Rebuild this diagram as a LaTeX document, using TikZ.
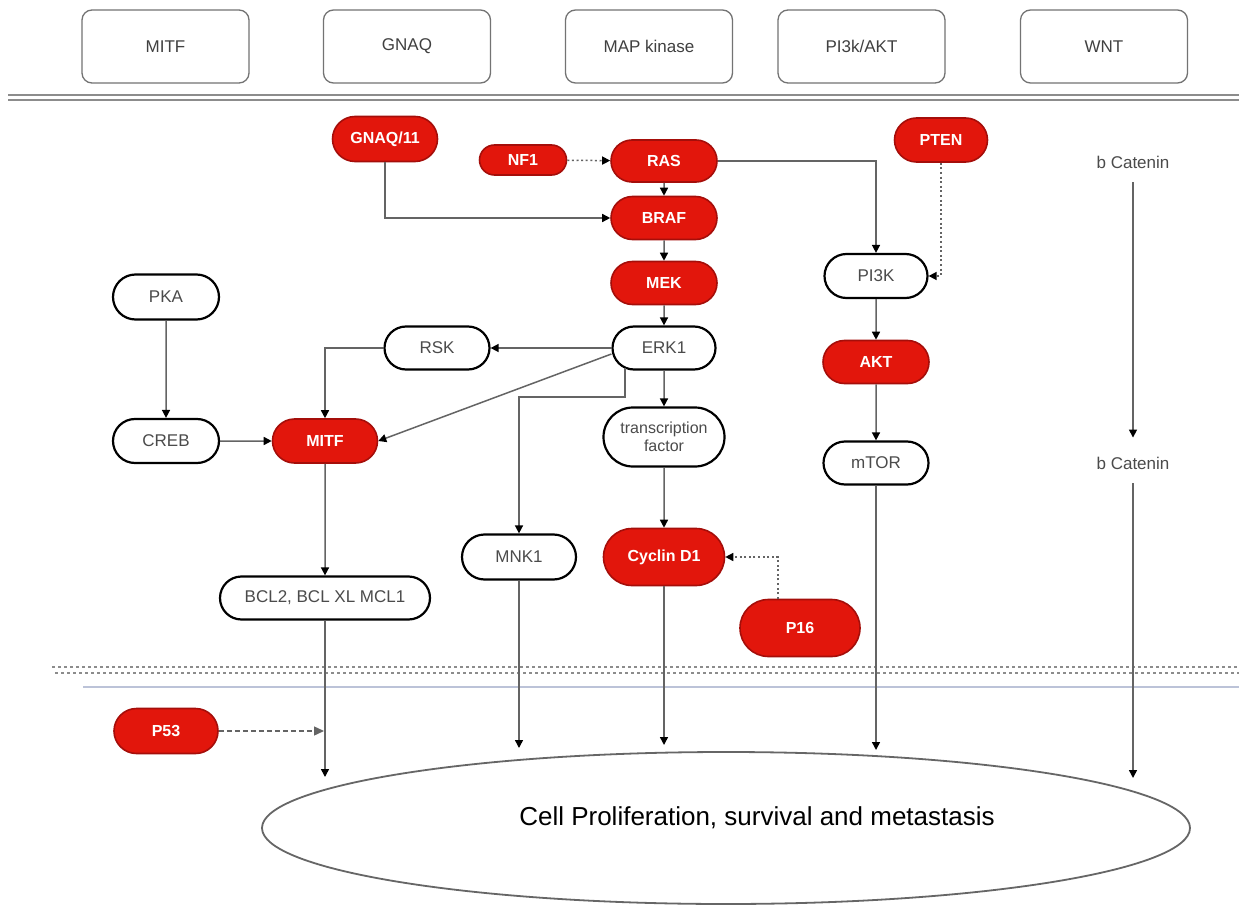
\documentclass[tikz,border=0pt]{standalone}
\usepackage{fontspec}
\setmainfont{Liberation Sans}
\usetikzlibrary{shapes.misc,shapes.geometric,arrows.meta}
\definecolor{nodered}{RGB}{226,22,12}
\definecolor{reddark}{RGB}{165,14,10}
\definecolor{linegray}{RGB}{100,100,100}
\definecolor{dotgray}{RGB}{140,140,140}
\definecolor{thinblue}{RGB}{188,195,216}
\definecolor{txtgray}{RGB}{75,75,75}
\begin{document}
\begin{tikzpicture}[x=1pt,y=-1pt,
  every node/.style={font=\fontsize{17}{20}\selectfont},
  topbox/.style={draw=black!55, line width=1.3pt, rounded corners=10pt, minimum width=167pt, minimum height=73pt, text=black!75},
  wnode/.style={rounded rectangle, draw=black, line width=2.2pt, fill=white, text=txtgray, inner sep=1pt, minimum width=107pt, minimum height=43pt},
  rnode/.style={rounded rectangle, draw=reddark, line width=1.6pt, fill=nodered, text=white, font=\bfseries\fontsize{16}{19}\selectfont, inner sep=1pt, minimum width=108pt, minimum height=43pt},
  plain/.style={text=txtgray, inner sep=0pt},
  arr/.style={draw=linegray, line width=1.5pt, -{Triangle[length=8pt,width=8pt,color=black]}},
  dotarr/.style={arr, dash pattern=on 2pt off 2.6pt},
  dasharr/.style={draw=linegray, line width=1.4pt, dash pattern=on 5pt off 3pt, -{Triangle[length=10pt,width=9pt,color=linegray]}}
]
\useasboundingbox (0,0) rectangle (1239,909);
\fill[white] (0,0) rectangle (1239,909);

% top category boxes
\node[topbox] (tmitf) at (165.5,46.5) {MITF};
\node[topbox] (tgnaq) at (407,46.5) {GNAQ};
\node[topbox] (tmap) at (649,46.5) {MAP kinase};
\node[topbox] (tpi3k) at (861.5,46.5) {PI3k/AKT};
\node[topbox] (twnt) at (1104,46.5) {WNT};

% membrane double line
\draw[draw=black!45, line width=2.2pt] (8,95) -- (1239,95);
\draw[draw=black!45, line width=2.2pt] (8,99.8) -- (1239,99.8);

% nuclear membrane dotted band
\draw[draw=dotgray, line width=2.7pt, dash pattern=on 2.7pt off 3.3pt] (52,667) -- (1239,667);
\draw[draw=dotgray, line width=2.7pt, dash pattern=on 2.7pt off 3.3pt, dash phase=3pt] (52,673) -- (1239,673);
\draw[draw=thinblue, line width=1.3pt] (83,687) -- (1239,687);

% nodes
\node[rnode, minimum width=107pt, minimum height=45pt] (gnaq) at (385,139) {GNAQ/11};
\node[rnode, minimum width=89pt, minimum height=30pt] (nf1) at (523,160) {NF1};
\node[rnode, minimum height=42pt] (ras) at (664,161) {RAS};
\node[rnode] (braf) at (664,218) {BRAF};
\node[rnode] (mek) at (664,283) {MEK};
\node[wnode, minimum width=105pt] (erk) at (664,348) {ERK1};
\node[wnode, minimum width=123pt, minimum height=59pt, align=center, font=\fontsize{16}{18}\selectfont] (tf) at (664,437) {transcription\\factor};
\node[rnode, minimum width=123pt, minimum height=57pt] (cyc) at (664,557) {Cyclin D1};
\node[rnode, minimum width=122pt, minimum height=57pt] (p16) at (800,628) {P16};
\node[rnode, minimum width=95pt, minimum height=44pt] (pten) at (941,140) {PTEN};
\node[wnode, minimum width=105pt, minimum height=44pt] (pi3k) at (876,276) {PI3K};
\node[rnode] (akt) at (876,362) {AKT};
\node[wnode] (mtor) at (876,463) {mTOR};
\node[wnode, minimum width=108pt, minimum height=45pt] (pka) at (166,297) {PKA};
\node[wnode, minimum width=108pt, minimum height=44pt] (creb) at (166,441) {CREB};
\node[wnode] (rsk) at (437,348) {RSK};
\node[rnode, minimum width=107pt, minimum height=44pt] (mitf) at (325,441) {MITF};
\node[wnode, minimum width=116pt, minimum height=45pt] (mnk) at (519,557) {MNK1};
\node[wnode, minimum width=212pt, minimum height=43pt] (bcl) at (325,598) {BCL2, BCL XL MCL1};
\node[rnode, minimum width=106pt, minimum height=45pt] (p53) at (166,731) {P53};
\node[plain] (bc1) at (1133,162) {b Catenin};
\node[plain] (bc2) at (1133,463) {b Catenin};

\node[ellipse, draw=black!60, line width=1.8pt, minimum width=928pt, minimum height=152pt, inner sep=0pt] (cell) at (726,828) {};
\node[font=\fontsize{26}{30}\selectfont, text=black] (celltxt) at (757,818) {Cell Proliferation, survival and metastasis};

% helper coordinates
\coordinate (erkm) at (625,368);
\coordinate (erkbend) at (625,397);
\coordinate (p53t) at (324,731);
\coordinate (e1) at (325,777);
\coordinate (e2) at (519,748);
\coordinate (e3) at (664,745);
\coordinate (e4) at (876,750);
\coordinate (e5) at (1133,778);

% connectors
\draw[dotarr] (nf1) -- (ras);
\draw[arr] (ras) -- (braf);
\draw[arr] (braf) -- (mek);
\draw[arr] (mek) -- (erk);
\draw[arr] (gnaq.south) |- (braf.west);
\draw[arr] (ras.east) -| (pi3k.north);
\draw[dotarr] (pten.south) |- (pi3k.east);
\draw[arr] (pi3k) -- (akt);
\draw[arr] (akt) -- (mtor);
\draw[arr] (erk.west) -- (rsk.east);
\draw[arr] (rsk.west) -| (mitf.north);
\draw[arr] ([yshift=-6pt]erk.west) -- (mitf.east);
\draw[arr] (erkm) -- (erkbend) -| (mnk.north);
\draw[arr] (erk) -- (tf);
\draw[arr] (tf) -- (cyc);
\draw[dotarr] ([xshift=-22pt]p16.north) |- (cyc.east);
\draw[arr] (pka) -- (creb);
\draw[arr] (creb) -- (mitf);
\draw[arr] (mitf) -- (bcl);
\draw[arr] (bcl.south) -- (e1);
\draw[dasharr] (p53.east) -- (p53t);
\draw[arr] (mnk.south) -- (e2);
\draw[arr] (cyc.south) -- (e3);
\draw[arr] (mtor.south) -- (e4);
\draw[arr, shorten <=14pt, shorten >=19pt] (bc1.south) -- (bc2.north);
\draw[arr, shorten <=14pt] (bc2.south) -- (e5);
\end{tikzpicture}
\end{document}
